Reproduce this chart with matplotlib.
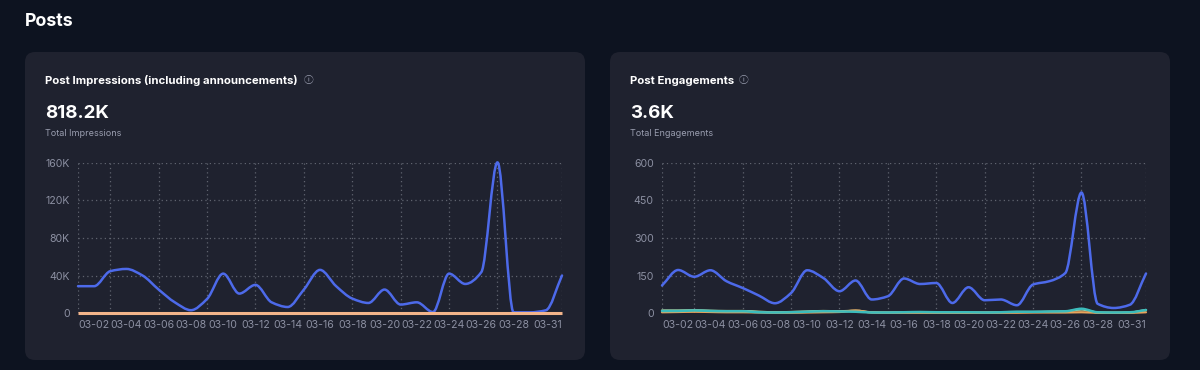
import numpy as np
import matplotlib
matplotlib.use("Agg")
import matplotlib.pyplot as plt
from matplotlib.patches import FancyBboxPatch, PathPatch
from matplotlib.path import Path

plt.rcParams['font.family'] = ['Inter', 'DejaVu Sans']

days = list(range(1, 32))
tick_days = [2, 4, 6, 8, 10, 12, 14, 16, 18, 20, 22, 24, 26, 28, 31]
tick_labels = ["03-%02d" % d for d in tick_days]
grid_days = [1, 3, 6, 9, 12, 15, 18, 21, 24, 27, 31]

# impressions (thousands)
impressions = [28.6, 28.6, 44.6, 47, 40, 25, 11.4, 3, 15, 42, 20.7, 30, 11.4, 6.4, 25,
               46, 28.6, 15.4, 10.7, 25, 9, 11.4, 1, 42, 31, 43.6, 160.7, 0.7, 0.7, 2.9, 40]
announcements = [0] * 31

engagements = [110, 172, 145, 171, 127, 100, 70, 39, 80, 171, 140, 87, 130, 54, 67, 138,
               116, 120, 40, 103, 51, 54, 31, 114, 127, 160, 482, 37, 20, 33, 158]
eng_teal = [8, 8, 10, 8, 7, 7, 3, 2, 3, 5, 7, 6, 5, 2, 2, 3, 4, 3, 3, 3, 2, 3, 5, 5, 6, 7, 17, 3, 2, 3, 12]
eng_green = [10, 10, 11, 9, 8, 8, 5, 3, 4, 6, 8, 7, 9, 3, 2, 3, 3, 2, 2, 2, 2, 3, 4, 4, 5, 6, 14, 2, 1, 2, 12]
eng_orange = [3, 4, 5, 4, 3, 3, 2, 1, 1, 2, 3, 4, 10, 2, 1, 1, 1, 1, 1, 1, 1, 1, 1, 2, 2, 2, 3, 1, 1, 1, 3]

BG = "#0d1320"
CARD = "#1f222f"
GRID = "#60646f"
TICK = "#8c90a2"
BLUE = "#4d6aea"


def smooth_line(ax, x, y, color, lw=1.8, z=3):
    # monotone cubic drawn as bezier segments
    x = np.asarray(x, float)
    y = np.asarray(y, float)
    dx = np.diff(x)
    s = np.diff(y) / dx
    m = np.zeros_like(y)
    m[0], m[-1] = s[0], s[-1]
    for i in range(1, len(y) - 1):
        if s[i - 1] * s[i] <= 0:
            m[i] = 0
        else:
            m[i] = 2 / (1 / s[i - 1] + 1 / s[i])
    verts = [(x[0], y[0])]
    codes = [Path.MOVETO]
    for i in range(len(x) - 1):
        h = dx[i] / 3
        verts += [(x[i] + h, y[i] + m[i] * h), (x[i + 1] - h, y[i + 1] - m[i + 1] * h), (x[i + 1], y[i + 1])]
        codes += [Path.CURVE4] * 3
    ax.add_patch(PathPatch(Path(verts, codes), fill=False, edgecolor=color, lw=lw, zorder=z,
                           capstyle='round', joinstyle='round', clip_on=False))


def setup_axes(ax, ymax, yticks, ylabels):
    ax.set_facecolor("none")
    ax.set_xlim(1, 31)
    ax.set_ylim(0, ymax)
    for s in ax.spines.values():
        s.set_visible(False)
    ax.set_yticks(yticks)
    ax.set_yticklabels(ylabels)
    ax.set_xticks(tick_days)
    ax.set_xticklabels(tick_labels)
    ax.get_xticklabels()[-1].set_ha("right")
    ax.get_xticklabels()[-1].set_x(31.3)
    ax.tick_params(length=0, colors=TICK, labelsize=7.6, pad=5)
    ax.tick_params(axis='y', pad=6)
    for yv in yticks:
        ax.axhline(yv, color=GRID, lw=0.9, ls=(0, (1, 2.5)), zorder=1)
    for d in grid_days:
        ax.axvline(d, color=GRID, lw=0.9, ls=(0, (1, 2.5)), zorder=1)


fig = plt.figure(figsize=(12, 3.7), dpi=100)
fig.patch.set_facecolor(BG)

for x0 in (0.25, 6.10):
    fig.patches.append(FancyBboxPatch((x0, 0.10), 5.60, 3.08, boxstyle="round,pad=0,rounding_size=0.1",
                                      transform=fig.dpi_scale_trans, facecolor=CARD, edgecolor="none",
                                      zorder=-5))

fig.text(25 / 1200, 1 - 22 / 370, "Posts", color="white", fontsize=12.8, fontweight="bold", va="center")

cards = [
    (45, "Post Impressions (including announcements)", "818.2K", "Total Impressions", 309),
    (630, "Post Engagements", "3.6K", "Total Engagements", 744),
]
for x, title, big, sub, ix in cards:
    fig.text(x / 1200, 1 - 81 / 370, title, color="white", fontsize=8.2, fontweight="bold", va="center")
    fig.text(ix / 1200, 1 - 80 / 370, "ⓘ", color="#9a9eb0", fontsize=7, va="center", ha="center",
             family=["Noto Sans CJK SC", "DejaVu Sans"])
    fig.text(x / 1200, 1 - 113 / 370, big, color="white", fontsize=13.5, fontweight="bold", va="center")
    fig.text(x / 1200, 1 - 133 / 370, sub, color="#9a9eb0", fontsize=6.5, va="center")

ax1 = fig.add_axes([78 / 1200, 57 / 370, 484 / 1200, 150 / 370])
setup_axes(ax1, 160, [0, 40, 80, 120, 160], ["0", "40K", "80K", "120K", "160K"])
ax1.plot(days, announcements, color="#f2b48a", lw=2.2, zorder=4, clip_on=False, solid_capstyle="butt")
smooth_line(ax1, days, impressions, BLUE, z=3)

ax2 = fig.add_axes([662 / 1200, 57 / 370, 484 / 1200, 150 / 370])
setup_axes(ax2, 600, [0, 150, 300, 450, 600], ["0", "150", "300", "450", "600"])
smooth_line(ax2, days, eng_green, "#c9e4a4", lw=1.6, z=3)
smooth_line(ax2, days, eng_orange, "#e8a45c", lw=1.6, z=3)
smooth_line(ax2, days, eng_teal, "#3cbcbc", lw=1.8, z=4)
smooth_line(ax2, days, engagements, BLUE, z=5)

fig.savefig("out.png", dpi=100, facecolor=BG)
